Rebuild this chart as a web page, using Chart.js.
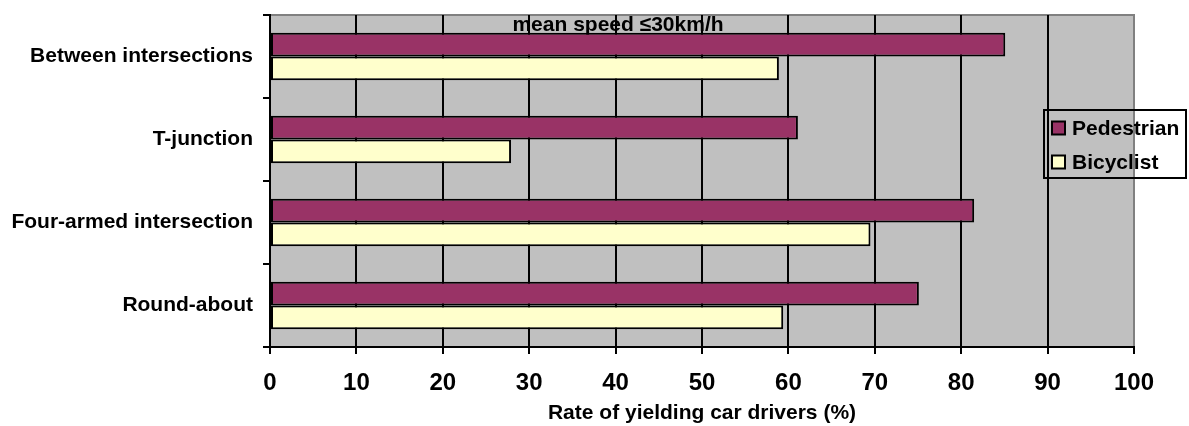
<!DOCTYPE html>
<html>
<head>
<meta charset="utf-8">
<script src="https://cdn.jsdelivr.net/npm/chart.js@4/dist/chart.umd.min.js"></script>
<style>
  html, body { margin: 0; padding: 0; background: #fff; }
  #wrap { width: 1189px; height: 426px; }
</style>
</head>
<body>
<div id="wrap"><canvas id="yieldChart" width="1189" height="426"></canvas></div>
<script>
// 데이터: 교차로 유형별 양보 운전자 비율 (%)
const categories = ['Between intersections', 'T-junction', 'Four-armed intersection', 'Round-about'];
const pedestrian = [85.1, 61.1, 81.5, 75.1];
const bicyclist = [58.9, 27.9, 69.5, 59.4];
const xTicks = [0, 10, 20, 30, 40, 50, 60, 70, 80, 90, 100];
const titleText = 'mean speed \u226430km/h';
const axisTitle = 'Rate of yielding car drivers (%)';

const FONT = 'Arial, "Liberation Sans", sans-serif';

// 플롯 배경 + 제목 (격자선이 제목 위에 그려지도록 beforeDraw 사용)
const plotBg = {
    id: 'plotBg',
    beforeDraw(chart) {
        const { ctx, chartArea: a } = chart;
        ctx.save();
        ctx.fillStyle = '#C0C0C0';
        ctx.fillRect(a.left, a.top, a.right - a.left, a.bottom - a.top);
        ctx.strokeStyle = '#808080';
        ctx.lineWidth = 2;
        ctx.strokeRect(a.left, a.top, a.right - a.left, a.bottom - a.top);
        ctx.fillStyle = '#000';
        ctx.font = 'bold 21px ' + FONT;
        ctx.textAlign = 'center';
        ctx.textBaseline = 'alphabetic';
        ctx.fillText(titleText, 618, 31);
        ctx.restore();
    }
};

// 범례 직접 그리기 (플롯 영역 위에 겹쳐서 배치)
const boxLegend = {
    id: 'boxLegend',
    afterDraw(chart) {
        const { ctx } = chart;
        ctx.save();
        ctx.strokeStyle = '#000';
        ctx.lineWidth = 2;
        ctx.strokeRect(1044, 110, 142, 68);
        ctx.font = 'bold 21px ' + FONT;
        ctx.textAlign = 'left';
        ctx.textBaseline = 'middle';
        chart.data.datasets.forEach((ds, i) => {
            const cy = 128 + i * 34;
            ctx.fillStyle = ds.backgroundColor;
            ctx.fillRect(1052, cy - 6.5, 13, 13);
            ctx.lineWidth = 2;
            ctx.strokeRect(1052, cy - 6.5, 13, 13);
            ctx.fillStyle = '#000';
            ctx.fillText(ds.label, 1072, cy + 1);
        });
        ctx.restore();
    }
};

new Chart(document.getElementById('yieldChart'), {
    type: 'bar',
    data: {
        labels: categories,
        datasets: [
            { label: 'Pedestrian', data: pedestrian, backgroundColor: '#993366', borderColor: '#000', borderWidth: 2, borderSkipped: false },
            { label: 'Bicyclist', data: bicyclist, backgroundColor: '#FFFFCC', borderColor: '#000', borderWidth: 2, borderSkipped: false }
        ]
    },
    options: {
        indexAxis: 'y',
        responsive: false,
        animation: false,
        devicePixelRatio: 1,
        layout: { padding: { top: 15, right: 55, left: 0, bottom: 0 } },
        categoryPercentage: 0.57,
        barPercentage: 1.0,
        plugins: { legend: { display: false }, tooltip: { enabled: false } },
        scales: {
            x: {
                min: 0, max: 100,
                afterBuildTicks(scale) { scale.ticks = xTicks.map(v => ({ value: v })); },
                afterFit(scale) { scale.height = 79; scale.paddingLeft = 0; scale.paddingRight = 0; },
                grid: {
                    color: c => (c.tick && c.tick.value === 100) ? '#808080' : '#000',
                    tickColor: '#000',
                    lineWidth: 2,
                    tickLength: 7
                },
                border: { color: '#000', width: 2 },
                ticks: { color: '#000', font: { family: FONT, size: 24, weight: 'bold' }, padding: 15, maxRotation: 0 },
                title: { display: true, text: axisTitle, color: '#000', font: { family: FONT, size: 21, weight: 'bold' }, padding: 0 }
            },
            y: {
                afterFit(scale) { scale.width = 270; scale.paddingTop = 0; scale.paddingBottom = 0; },
                grid: { drawOnChartArea: false, color: '#000', lineWidth: 2, tickLength: 7, offset: true },
                border: { color: '#000', width: 2 },
                ticks: { color: '#000', font: { family: FONT, size: 21, weight: 'bold' }, padding: 10 }
            }
        }
    },
    plugins: [plotBg, boxLegend]
});
</script>
</body>
</html>
